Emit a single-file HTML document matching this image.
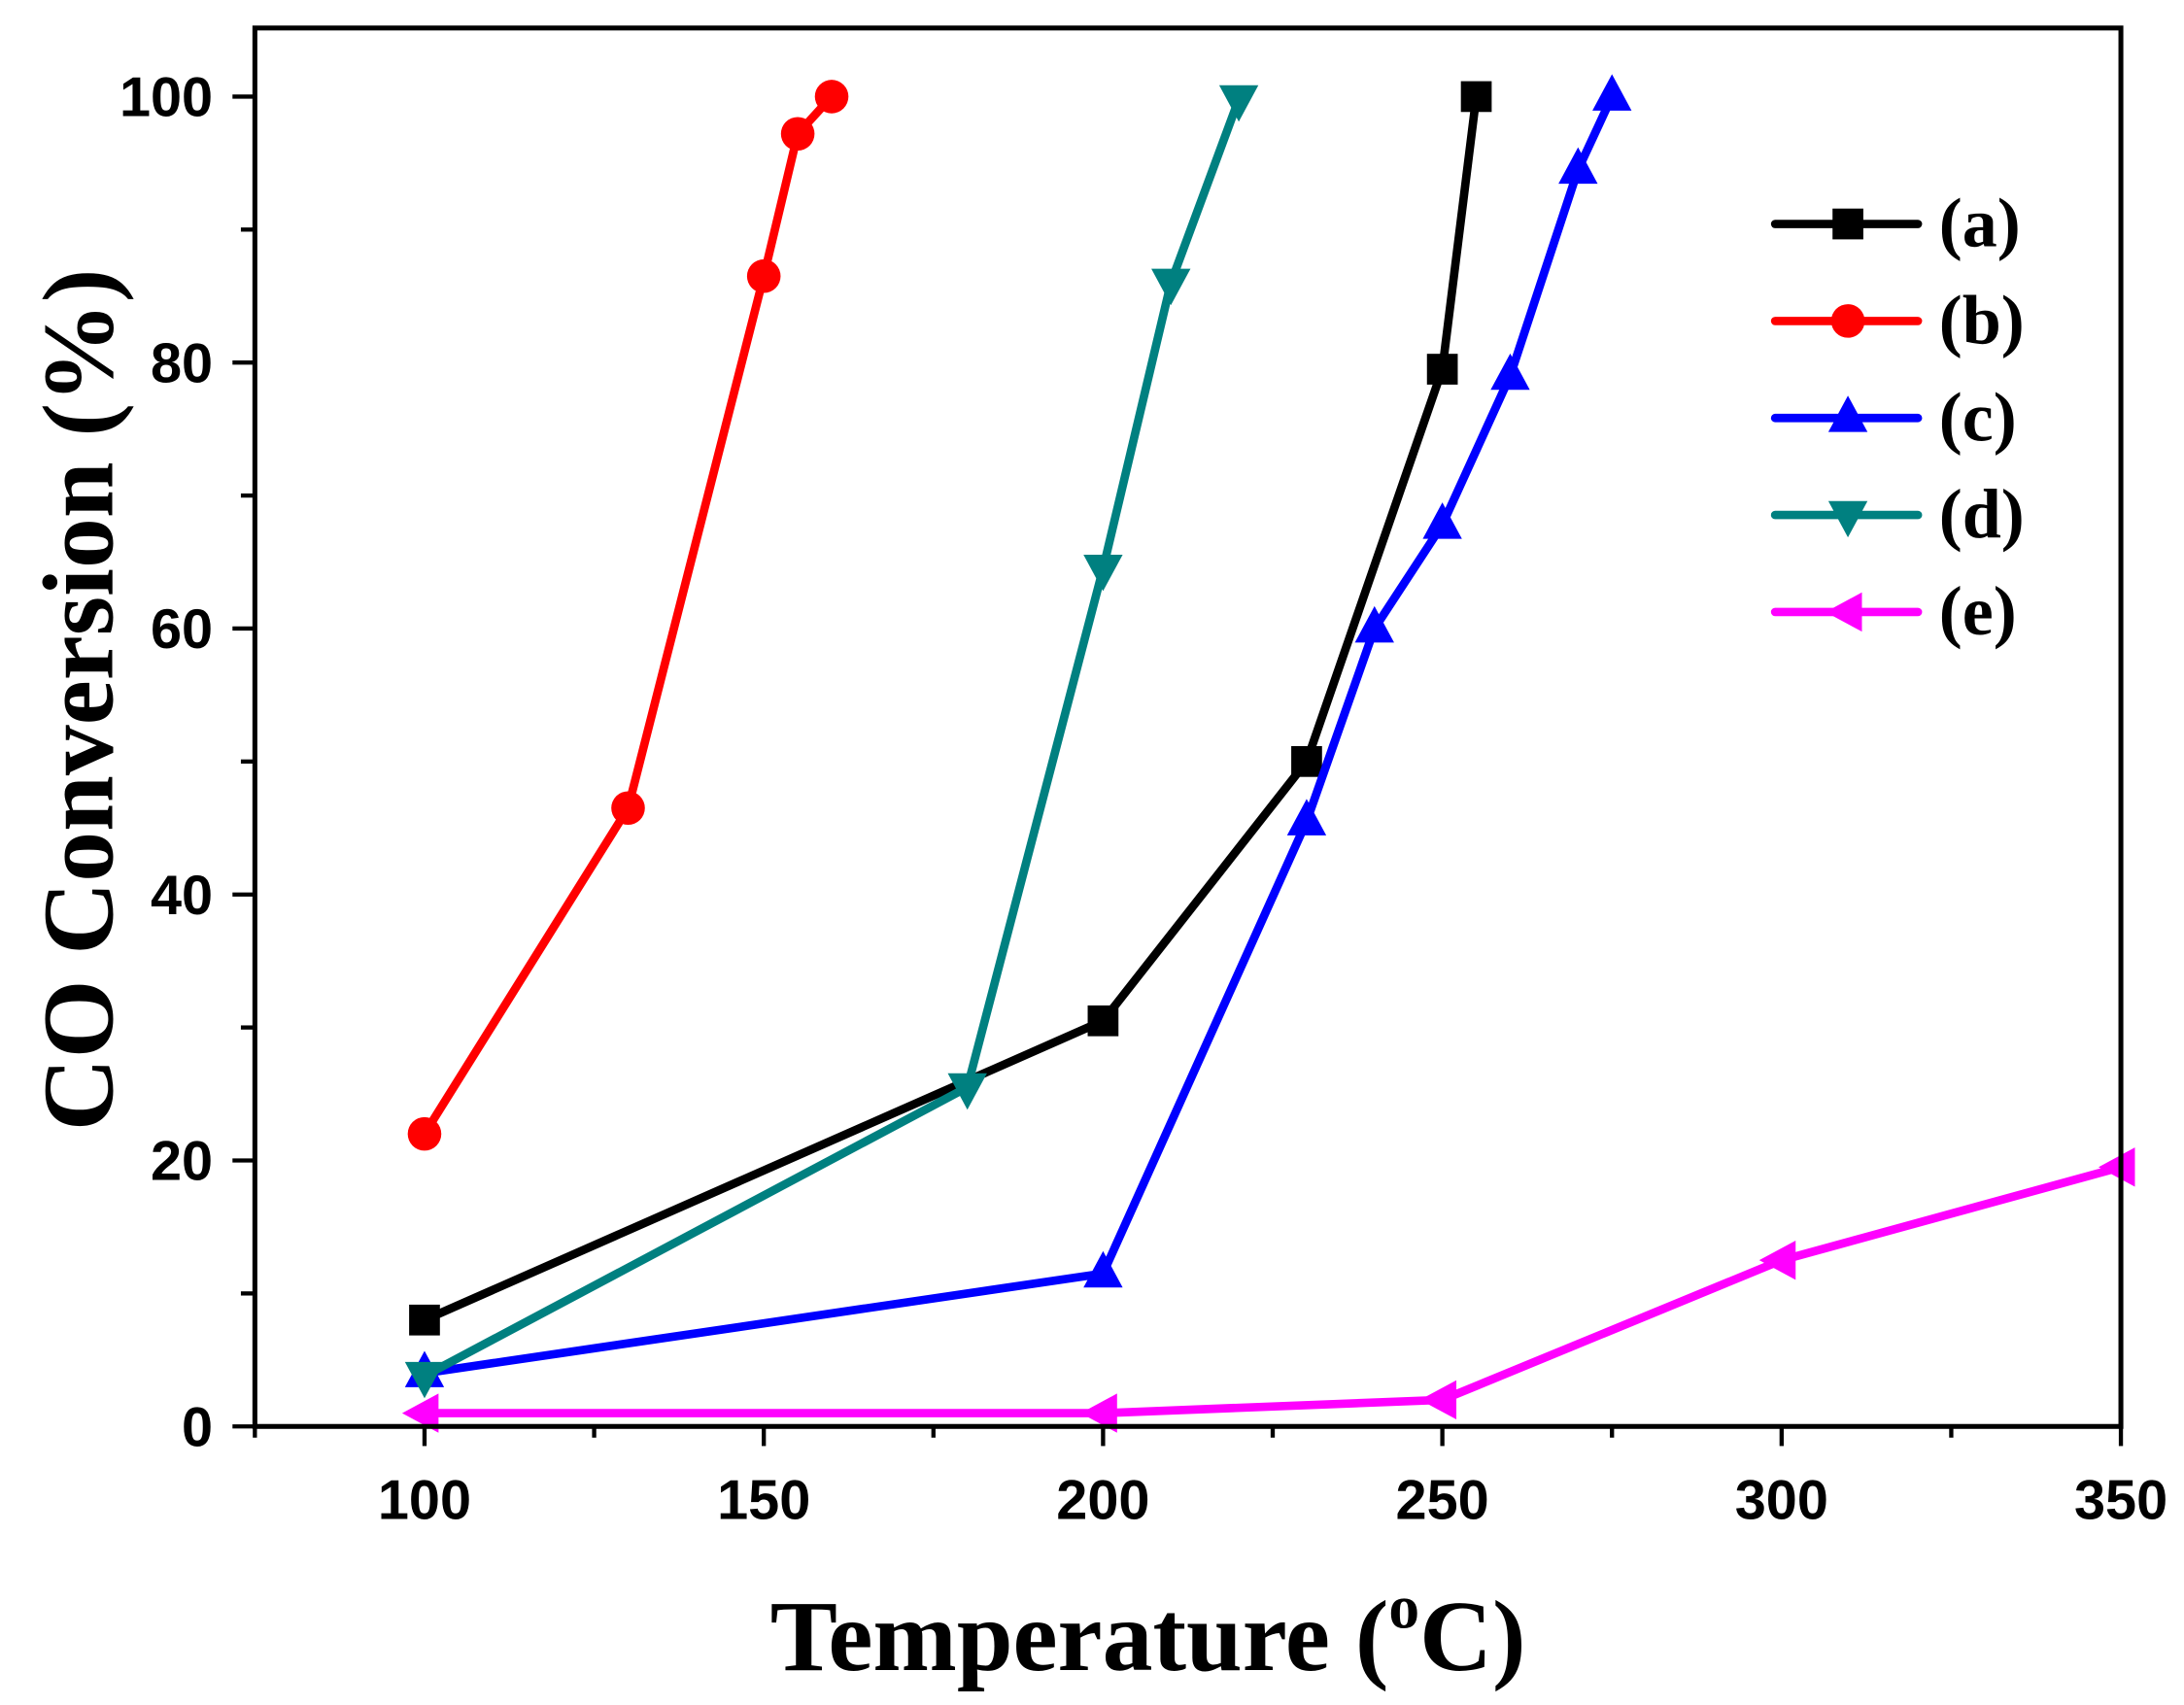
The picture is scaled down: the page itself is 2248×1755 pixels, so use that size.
<!DOCTYPE html>
<html><head><meta charset="utf-8"><style>html,body{margin:0;padding:0;background:#fff}svg{display:block}</style></head>
<body>
<svg id="chart" xmlns="http://www.w3.org/2000/svg" width="2248" height="1755" viewBox="0 0 1560 1218">
<rect x="0" y="0" width="1560" height="1218" fill="#fff"/>
<g id="series"></g>
<rect x="182" y="20" width="1333" height="999" fill="none" stroke="#000" stroke-width="3.5"/>
<g id="axes"></g>
<text x="820" y="1193" text-anchor="middle" font-family="Liberation Serif, serif" font-weight="bold" font-size="72">Temperature (<tspan font-size="44" dy="-30">o</tspan><tspan dy="30">C)</tspan></text>
<text transform="translate(80,500) rotate(-90)" text-anchor="middle" font-family="Liberation Serif, serif" font-weight="bold" font-size="72">CO Conversion (%)</text>
<g id="legend"></g>
</svg>
<script>
const xTicks=[100,150,200,250,300,350];
const yTicks=[0,20,40,60,80,100];
const seriesNames=["(a)","(b)","(c)","(d)","(e)"];
const seriesColors=["#000000","#ff0000","#0000ff","#008080","#ff00ff"];
const seriesMarkers=["square","circle","up","down","left"];
const xA=[100,200,230,250,255];
const yA=[8,30.5,50,79.5,100];
const xB=[100,130,150,155,160];
const yB=[22,46.5,86.5,97.2,100];
const xC=[100,200,230,240,250,260,270,275];
const yC=[4,11.5,45.5,60,67.8,79,94.5,100];
const xD=[100,180,200,210,220];
const yD=[3.8,25.5,64.5,86,99.8];
const xE=[100,200,250,300,350];
const yE=[1,1,2,12.5,19.5];
const NS="http://www.w3.org/2000/svg";
const X=v=>182+(v-75)*(1515-182)/275;
const Y=v=>1019-v*9.5;
function mk(tag,attrs,parent){const e=document.createElementNS(NS,tag);for(const k in attrs)e.setAttribute(k,attrs[k]);parent.appendChild(e);return e;}
function marker(type,cx,cy,color,parent){
  const s=11;let e;
  if(type==="square")e=mk("rect",{x:cx-s,y:cy-s,width:2*s,height:2*s,fill:color},parent);
  else if(type==="circle")e=mk("circle",{cx:cx,cy:cy,r:s+1,fill:color},parent);
  else if(type==="up")e=mk("polygon",{points:`${cx},${cy-16} ${cx+14},${cy+10} ${cx-14},${cy+10}`,fill:color},parent);
  else if(type==="down")e=mk("polygon",{points:`${cx},${cy+16} ${cx+14},${cy-10} ${cx-14},${cy-10}`,fill:color},parent);
  else e=mk("polygon",{points:`${cx-16},${cy} ${cx+10},${cy-14} ${cx+10},${cy+14}`,fill:color},parent);
  return e;
}
const axes=document.getElementById("axes");
for(let v=75;v<=350;v+=25){
  const t=mk("line",{x1:X(v),x2:X(v),y1:1019,y2:v%50===0?1033:1027,stroke:"#000","stroke-width":3},axes);
  
  
}
xTicks.forEach(v=>{
  const t=mk("text",{x:X(v),y:1085,"text-anchor":"middle","font-family":"Liberation Sans, sans-serif","font-weight":"bold","font-size":"40"},axes);
  t.textContent=v;
  
  
});
for(let v=0;v<=100;v+=10){
  const t=mk("line",{x1:182,x2:v%20===0?166:172,y1:Y(v),y2:Y(v),stroke:"#000","stroke-width":3},axes);
  
  
}
yTicks.forEach(v=>{
  const t=mk("text",{x:152,y:Y(v)+14,"text-anchor":"end","font-family":"Liberation Sans, sans-serif","font-weight":"bold","font-size":"40"},axes);
  t.textContent=v;
  
  
});
const xs=[xA,xB,xC,xD,xE],ys=[yA,yB,yC,yD,yE];
const sg=document.getElementById("series");
xs.forEach((xv,i)=>{
  const g=mk("g",{},sg);
  
  
  const pts=xv.map((x,j)=>X(x)+","+Y(ys[i][j])).join(" ");
  const l=mk("polyline",{points:pts,fill:"none",stroke:seriesColors[i],"stroke-width":6,"stroke-linejoin":"round","stroke-linecap":"round"},g);
  
  
  xv.forEach((x,j)=>{
    const m=marker(seriesMarkers[i],X(x),Y(ys[i][j]),seriesColors[i],g);
    
    
  });
});
const lg=document.getElementById("legend");


seriesNames.forEach((n,i)=>{
  const y=160+i*69.3;
  const g=mk("g",{},lg);
  
  
  mk("line",{x1:1268,x2:1370,y1:y,y2:y,stroke:seriesColors[i],"stroke-width":6,"stroke-linecap":"round"},g);
  marker(seriesMarkers[i],1320,y,seriesColors[i],g);
  const t=mk("text",{x:1385,y:y+16,"font-family":"Liberation Serif, serif","font-weight":"bold","font-size":"50"},g);
  t.textContent=n;
});
</script>
</body></html>
